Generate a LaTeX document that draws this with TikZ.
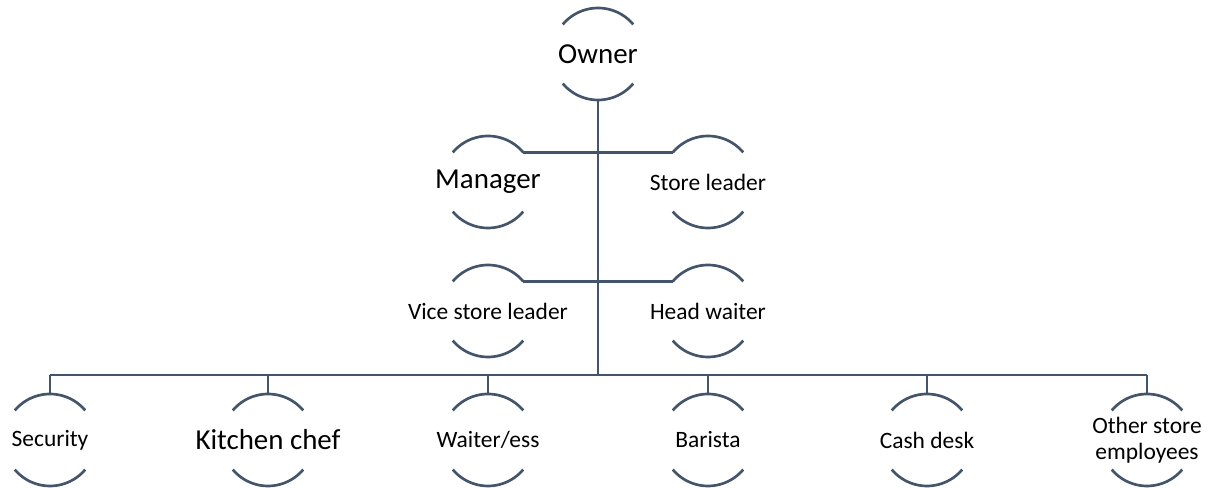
\documentclass[tikz,border=0pt]{standalone}
\usepackage{fontspec}
\setmainfont{Carlito}
\usepackage{xcolor}
\usetikzlibrary{calc}
\definecolor{slate}{HTML}{44546A}
\tikzset{
	role/.style={inner sep=0pt, align=center, font=\fontsize{17.6}{19.5}\selectfont},
	bigrole/.style={role, font=\fontsize{21.7}{26}\selectfont},
	link/.style={draw=slate, line width=2pt}
}

\begin{document}
\begin{tikzpicture}[x=0.75pt, y=0.75pt]
		\useasboundingbox (0,0) rectangle (1222,488);

		% Top of the chart
		\node[bigrole] (own) at (598,434) {Owner};

		% Second level
		\node[bigrole] (man) at (488,306) {Manager};
		\node[role] (sto) at (708,306) {Store leader};

		% Third level
		\node[role] (vic) at (488,177) {Vice store leader};
		\node[role] (hea) at (708,177) {Head waiter};

		% Staff row
		\node[role] (sec) at (50,48) {Security};
		\node[bigrole] (kit) at (268,48) {Kitchen chef};
		\node[role] (wai) at (488,48) {Waiter/ess};
		\node[role] (bar) at (708,48) {Barista};
		\node[role] (cas) at (927,48) {Cash desk};
		\node[role] (oth) at (1147,48) {Other store\\employees};

		% Half circles round every role
		\foreach \n in {own,man,sto,vic,hea,sec,kit,wai,bar,cas,oth}
			\draw[link] ($(\n)+(40:46)$) arc[start angle=40, end angle=140, radius=46]
				($(\n)+(220:46)$) arc[start angle=220, end angle=320, radius=46];

		% Trunk and branches
		\coordinate (bus) at (598,113);
		\draw[link] ($(own)+(0,-46)$) -- (bus);
		\draw[link] ($(man)+(40:46)$) -- ($(sto)+(140:46)$);
		\draw[link] ($(vic)+(40:46)$) -- ($(hea)+(140:46)$);
		\draw[link] (sec |- bus) -- (oth |- bus);
		\foreach \n in {sec,kit,wai,bar,cas,oth}
			\draw[link] (\n |- bus) -- ($(\n)+(0,46)$);
	\end{tikzpicture}
\end{document}
